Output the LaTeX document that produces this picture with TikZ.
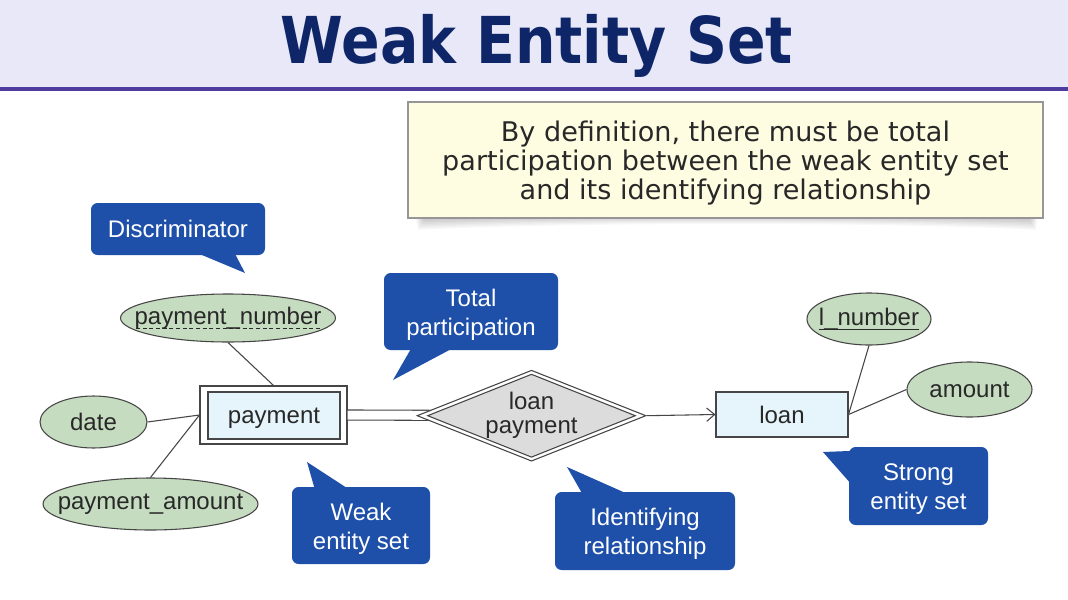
\documentclass[tikz,border=0pt]{standalone}
\usepackage{fontspec}
\usepackage{graphicx}
\setmainfont{Liberation Sans}
\newfontfamily\dejavu{DejaVu Sans}
\usetikzlibrary{shapes.geometric,arrows.meta}
\definecolor{titlebg}{RGB}{232,232,248}
\definecolor{titleline}{RGB}{78,60,158}
\definecolor{titletext}{RGB}{14,38,104}
\definecolor{notefill}{RGB}{255,253,225}
\definecolor{noteborder}{RGB}{150,150,150}
\definecolor{calloutblue}{RGB}{30,80,170}
\definecolor{attrgreen}{RGB}{198,220,192}
\definecolor{entityblue}{RGB}{230,245,252}
\definecolor{relgray}{RGB}{220,220,220}
\definecolor{linegray}{RGB}{70,70,70}
\definecolor{textdark}{RGB}{40,40,40}
\newcommand\mydashline[1]{\setbox0\hbox{#1}\rlap{\raisebox{-3.2pt}{\hbox to \wd0{\leaders\hbox to 5pt{\hss\rule{3pt}{0.6pt}\hss}\hfill}}}\box0}
\newcommand\mysolidline[1]{\setbox0\hbox{#1}\rlap{\raisebox{-3.2pt}{\rule{\wd0}{0.7pt}}}\box0}
\newcommand\zw[1]{\makebox[0pt]{#1}}
\begin{document}
\begin{tikzpicture}[x=0.75pt,y=-0.75pt,
  callout/.style={fill=calloutblue, rounded corners=5pt, inner sep=0pt},
  callouttext/.style={text=white, align=center, font=\fontsize{18}{21.75}\selectfont, inner sep=0pt},
  attr/.style={ellipse, draw=linegray, line width=0.8pt, fill=attrgreen, inner sep=0pt,
    text=textdark, font=\fontsize{18}{21.75}\selectfont},
  entity/.style={draw=linegray, line width=0.8pt, fill=entityblue, inner sep=0pt,
    text=textdark, font=\fontsize{18}{21.75}\selectfont},
  conn/.style={draw=linegray, line width=0.8pt},
  reldiamond/.style={diamond, aspect=2.5, draw=linegray, line width=0.8pt, inner sep=0pt},
]
\useasboundingbox (0,0) rectangle (1068,600);
\fill[white] (0,0) rectangle (1068,600);
% title bar
\fill[titlebg] (0,0) rectangle (1068,87);
\fill[titleline] (0,87) rectangle (1068,91);
\node[text=titletext, font=\dejavu\bfseries\fontsize{48.5}{50}\selectfont] (title) at (537,46)
  {\scalebox{0.88}[1]{Weak Entity Set}};
% note box with shadow
\foreach \i in {0,...,7}
  \fill[black, opacity=0.028] (414+\i,212) -- (1038-\i,212) -- (1036-\i,230-1.5*\i)
     .. controls (900,222-\i) and (560,222-\i) .. (418+\i,230-1.5*\i) -- cycle;
\node[draw=noteborder, fill=notefill, line width=0.8pt, minimum width=635*0.75pt,
  minimum height=116*0.75pt, inner sep=0pt] (note) at (725.5,160) {};
\node[align=center, text=textdark, inner sep=0pt,
  font=\dejavu\fontsize{20.3}{21.75}\selectfont] (notetext) at (725.5,163)
  {By definition, there must be total\\participation between the weak entity set\\and its identifying relationship};
% attributes
\node[attr, minimum width=215*0.75pt, minimum height=48*0.75pt] (pn) at (228,318)
  {\zw{\mydashline{payment\_number}}};
\node[attr, minimum width=107*0.75pt, minimum height=52*0.75pt] (date) at (93.5,422) {\zw{date}};
\node[attr, minimum width=215*0.75pt, minimum height=52*0.75pt] (pamt) at (150.5,504) {\zw{\raisebox{-1.5pt}{payment\_amount}}};
\node[attr, minimum width=124*0.75pt, minimum height=52*0.75pt] (lnum) at (869,319)
  {\zw{\raisebox{-2pt}{\mysolidline{l\_number}}}};
\node[attr, minimum width=125*0.75pt, minimum height=55*0.75pt] (amt) at (969.5,389.5) {\zw{\raisebox{-1.5pt}{amount}}};
% weak entity
\node[draw=linegray, line width=0.8pt, fill=white, minimum width=147*0.75pt,
  minimum height=58*0.75pt, inner sep=0pt] (pay) at (273.5,415) {};
\node[entity, minimum width=132*0.75pt, minimum height=47*0.75pt] (payin) at (274,415.5) {};
\node[text=textdark, font=\fontsize{18}{21.75}\selectfont, inner sep=0pt] (paytext) at (274,418.5) {payment};
% strong entity
\node[entity, minimum width=132*0.75pt, minimum height=45*0.75pt] (loan) at (782,414.5) {loan};
% relationship
\coordinate (relc) at (531.5,415.7);
\draw[linegray, line width=0.8pt, double=white, double distance=9*0.75pt] (pay.east) -- (relc);
\node[reldiamond, fill=white, minimum width=229*0.75pt, minimum height=91*0.75pt] (rel) at (relc) {};
\node[reldiamond, fill=relgray, minimum width=186*0.75pt, minimum height=75*0.75pt, align=center,
  text=textdark, font=\fontsize{18}{18}\selectfont] (relin) at (relc) {loan\\payment};
\draw[conn, -{Straight Barb[length=6pt, width=10pt]}] (rel.east) -- (loan.west);
\draw[conn] (pn.south) -- (pay.north);
\draw[conn] (date.east) -- (pay.west);
\draw[conn] (pamt.north) -- (pay.west);
\draw[conn] (lnum.south) -- (loan.east);
\draw[conn] (amt.west) -- (loan.east);
% callouts
\fill[calloutblue] (190,250) -- (245,273) -- (233,250) -- cycle;
\node[callout, minimum width=174*0.75pt, minimum height=52*0.75pt] (cdisc) at (178,229) {};
\node[callouttext] (cdisctext) at (178,229) {Discriminator};
\fill[calloutblue] (412,347) -- (393,380) -- (455,347) -- cycle;
\node[callout, minimum width=174*0.75pt, minimum height=77*0.75pt] (ctotal) at (471,311.5) {};
\node[callouttext] (ctotaltext) at (471,314.5) {Total\\participation};
\fill[calloutblue] (315,490) -- (307,462) -- (350,490) -- cycle;
\node[callout, minimum width=138*0.75pt, minimum height=77*0.75pt] (cweak) at (361,525.5) {};
\node[callouttext] (cweaktext) at (361,528.5) {Weak\\entity set};
\fill[calloutblue] (583,495) -- (567,467) -- (630,495) -- cycle;
\node[callout, minimum width=180*0.75pt, minimum height=78*0.75pt] (cident) at (645,531) {};
\node[callouttext] (cidenttext) at (645,534) {Identifying\\relationship};
\fill[calloutblue] (852,485) -- (823,452) -- (875,450) -- cycle;
\node[callout, minimum width=139*0.75pt, minimum height=78*0.75pt] (cstrong) at (918.5,486) {};
\node[callouttext] (cstrongtext) at (918.5,489) {Strong\\entity set};
\end{tikzpicture}
\end{document}
